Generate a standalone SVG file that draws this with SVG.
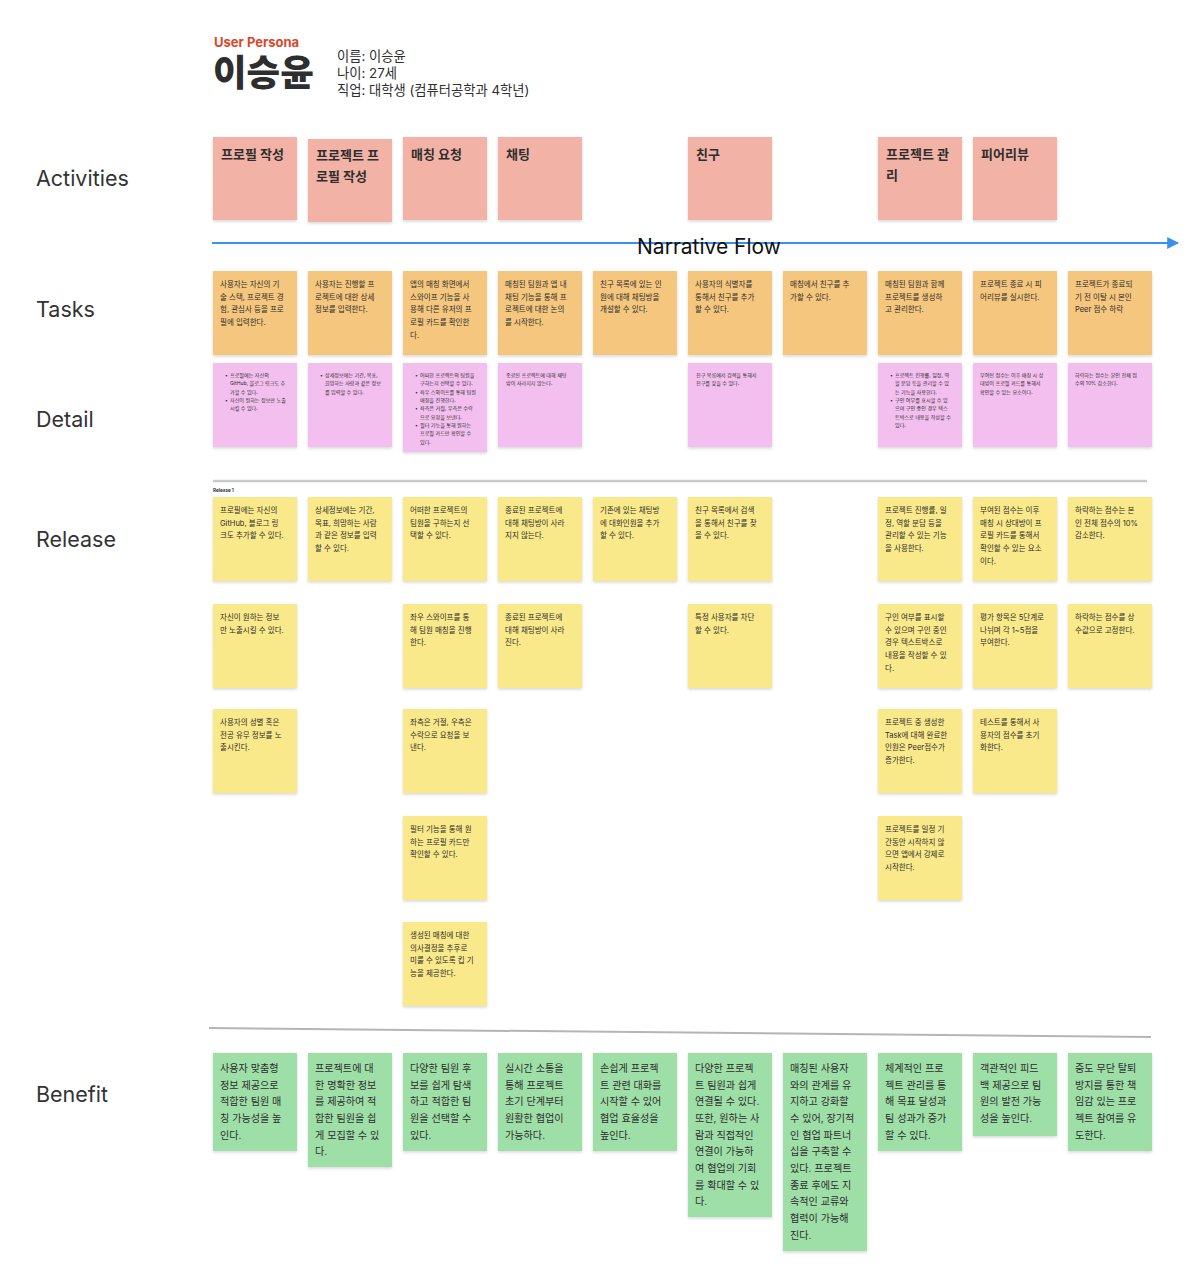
<svg xmlns="http://www.w3.org/2000/svg" width="1200" height="1272" viewBox="0 0 1200 1272">
<style>
text{font-family:"Inter","Noto Sans CJK KR",sans-serif;fill:#2e2e2e}
.lbl{font-size:21.5px;fill:#333}
.act{font-size:13px;font-weight:700}
.tk{font-size:7.5px}
.dt{font-size:5.1px}
.rl{font-size:7.5px}
.bf{font-size:10.1px}
.ca{fill:#F2B2A6}
.ct{fill:#F5C67D}
.cd{fill:#F3BFEE}
.cr{fill:#FAE98A}
.cb{fill:#9EDFA7}
rect.c{filter:url(#sh)}
</style>
<defs>
<filter id="sh" x="-10%" y="-10%" width="130%" height="130%">
<feDropShadow dx="0" dy="1.5" stdDeviation="1.4" flood-color="#000" flood-opacity="0.16"/>
</filter>
<marker id="ah" viewBox="0 0 10 10" refX="9" refY="5" markerWidth="6" markerHeight="6" orient="auto" markerUnits="strokeWidth">
<path d="M0,0 L10,5 L0,10 z" fill="#3B8FEF"/>
</marker>
</defs>
<rect width="1200" height="1272" fill="#fff"/>

<g id="header">
<text x="214" y="47" style="font-size:13px;font-weight:700;fill:#D9482A">User Persona</text>
<text x="213" y="86" style="font-size:36.5px;font-weight:800;fill:#2e2e2e">이승윤</text>
<text x="337" y="61" style="font-size:13.3px">이름: 이승윤</text>
<text x="337" y="78" style="font-size:13.3px">나이: 27세</text>
<text x="337" y="95" style="font-size:13.3px">직업: 대학생 (컴퓨터공학과 4학년)</text>
</g>

<g id="row-labels">
<text class="lbl" x="36" y="186">Activities</text>
<text class="lbl" x="36" y="317">Tasks</text>
<text class="lbl" x="36" y="427">Detail</text>
<text class="lbl" x="36" y="547">Release</text>
<text class="lbl" x="36" y="1102">Benefit</text>
</g>

<g id="separators">
<line x1="213" y1="481" x2="1147" y2="481" stroke="#cacaca" stroke-width="2.5"/>
<text x="213" y="492" style="font-size:4.6px;font-weight:700">Release 1</text>
<line x1="209" y1="1028" x2="1151" y2="1037" stroke="#b5b5b5" stroke-width="2"/>
</g>

<g id="connectors">
<line x1="212" y1="243" x2="1178" y2="243" stroke="#3B8FEF" stroke-width="2" marker-end="url(#ah)"/>
<text x="709" y="254" text-anchor="middle" style="font-size:21px;fill:#111">Narrative Flow</text>
</g>

<!-- Activities -->
<g id="act-1"><rect class="c ca" x="213" y="137" width="84" height="83"/><text class="act" x="221" y="159">프로필 작성</text></g>
<g id="act-2"><rect class="c ca" x="308" y="139" width="84" height="83"/><text class="act" x="316" y="160"><tspan x="316">프로젝트 프</tspan><tspan x="316" dy="21">로필 작성</tspan></text></g>
<g id="act-3"><rect class="c ca" x="403" y="137" width="84" height="83"/><text class="act" x="411" y="159">매칭 요청</text></g>
<g id="act-4"><rect class="c ca" x="498" y="137" width="84" height="83"/><text class="act" x="506" y="159">채팅</text></g>
<g id="act-5"><rect class="c ca" x="688" y="137" width="84" height="83"/><text class="act" x="696" y="159">친구</text></g>
<g id="act-6"><rect class="c ca" x="878" y="137" width="84" height="83"/><text class="act" x="886" y="159"><tspan x="886">프로젝트 관</tspan><tspan x="886" dy="21">리</tspan></text></g>
<g id="act-7"><rect class="c ca" x="973" y="137" width="84" height="83"/><text class="act" x="981" y="159">피어리뷰</text></g>

<!-- Tasks -->
<g id="task-1"><rect class="c ct" x="213" y="271" width="84" height="84"/><text class="tk" x="220" y="287"><tspan x="220">사용자는 자신의 기</tspan><tspan x="220" dy="12.67">술 스택, 프로젝트 경</tspan><tspan x="220" dy="12.67">험, 관심사 등을 프로</tspan><tspan x="220" dy="12.67">필에 입력한다.</tspan></text></g>
<g id="task-2"><rect class="c ct" x="308" y="271" width="84" height="84"/><text class="tk" x="315" y="287"><tspan x="315">사용자는 진행할 프</tspan><tspan x="315" dy="12.67">로젝트에 대한 상세</tspan><tspan x="315" dy="12.67">정보를 입력한다.</tspan></text></g>
<g id="task-3"><rect class="c ct" x="403" y="271" width="84" height="84"/><text class="tk" x="410" y="287"><tspan x="410">앱의 매칭 화면에서</tspan><tspan x="410" dy="12.67">스와이프 기능을 사</tspan><tspan x="410" dy="12.67">용해 다른 유저의 프</tspan><tspan x="410" dy="12.67">로필 카드를 확인한</tspan><tspan x="410" dy="12.67">다.</tspan></text></g>
<g id="task-4"><rect class="c ct" x="498" y="271" width="84" height="84"/><text class="tk" x="505" y="287"><tspan x="505">매칭된 팀원과 앱 내</tspan><tspan x="505" dy="12.67">채팅 기능을 통해 프</tspan><tspan x="505" dy="12.67">로젝트에 대한 논의</tspan><tspan x="505" dy="12.67">를 시작한다.</tspan></text></g>
<g id="task-5"><rect class="c ct" x="593" y="271" width="84" height="84"/><text class="tk" x="600" y="287"><tspan x="600">친구 목록에 있는 인</tspan><tspan x="600" dy="12.67">원에 대해 채팅방을</tspan><tspan x="600" dy="12.67">개설할 수 있다.</tspan></text></g>
<g id="task-6"><rect class="c ct" x="688" y="271" width="84" height="84"/><text class="tk" x="695" y="287"><tspan x="695">사용자의 식별자를</tspan><tspan x="695" dy="12.67">통해서 친구를 추가</tspan><tspan x="695" dy="12.67">할 수 있다.</tspan></text></g>
<g id="task-7"><rect class="c ct" x="783" y="271" width="84" height="84"/><text class="tk" x="790" y="287"><tspan x="790">매칭에서 친구를 추</tspan><tspan x="790" dy="12.67">가할 수 있다.</tspan></text></g>
<g id="task-8"><rect class="c ct" x="878" y="271" width="84" height="84"/><text class="tk" x="885" y="287"><tspan x="885">매칭된 팀원과 함께</tspan><tspan x="885" dy="12.67">프로젝트를 생성하</tspan><tspan x="885" dy="12.67">고 관리한다.</tspan></text></g>
<g id="task-9"><rect class="c ct" x="973" y="271" width="84" height="84"/><text class="tk" x="980" y="287"><tspan x="980">프로젝트 종료 시 피</tspan><tspan x="980" dy="12.67">어리뷰를 실시한다.</tspan></text></g>
<g id="task-10"><rect class="c ct" x="1068" y="271" width="84" height="84"/><text class="tk" x="1075" y="287"><tspan x="1075">프로젝트가 종료되</tspan><tspan x="1075" dy="12.67">기 전 이탈 시 본인</tspan><tspan x="1075" dy="12.67">Peer 점수 하락</tspan></text></g>

<!-- Detail -->
<g id="detail-1"><rect class="c cd" x="213" y="363" width="84" height="84"/><text class="dt"><tspan x="225" y="377">•</tspan><tspan x="230" y="377">프로필에는 자신의</tspan><tspan x="230" y="385.3">GitHub, 블로그 링크도 추</tspan><tspan x="230" y="393.7">가할 수 있다.</tspan><tspan x="225" y="402">•</tspan><tspan x="230" y="402">자신이 원하는 정보만 노출</tspan><tspan x="230" y="410.3">시킬 수 있다.</tspan></text></g>
<g id="detail-2"><rect class="c cd" x="308" y="363" width="84" height="84"/><text class="dt"><tspan x="320" y="377">•</tspan><tspan x="325" y="377">상세정보에는 기간, 목표,</tspan><tspan x="325" y="385.3">희망하는 사람과 같은 정보</tspan><tspan x="325" y="393.7">를 입력할 수 있다.</tspan></text></g>
<g id="detail-3"><rect class="c cd" x="403" y="363" width="84" height="89"/><text class="dt"><tspan x="415" y="377">•</tspan><tspan x="420" y="377">어떠한 프로젝트의 팀원을</tspan><tspan x="420" y="385.3">구하는지 선택할 수 있다.</tspan><tspan x="415" y="393.7">•</tspan><tspan x="420" y="393.7">좌우 스와이프를 통해 팀원</tspan><tspan x="420" y="402">매칭을 진행한다.</tspan><tspan x="415" y="410.3">•</tspan><tspan x="420" y="410.3">좌측은 거절, 우측은 수락</tspan><tspan x="420" y="418.7">으로 요청을 보낸다.</tspan><tspan x="415" y="427">•</tspan><tspan x="420" y="427">필터 기능을 통해 원하는</tspan><tspan x="420" y="435.3">프로필 카드만 확인할 수</tspan><tspan x="420" y="443.7">있다.</tspan></text></g>
<g id="detail-4"><rect class="c cd" x="498" y="363" width="84" height="84"/><text class="dt"><tspan x="506" y="377">종료된 프로젝트에 대해 채팅</tspan><tspan x="506" y="385.3">방이 사라지지 않는다.</tspan></text></g>
<g id="detail-5"><rect class="c cd" x="688" y="363" width="84" height="84"/><text class="dt"><tspan x="696" y="377">친구 목록에서 검색을 통해서</tspan><tspan x="696" y="385.3">친구를 찾을 수 있다.</tspan></text></g>
<g id="detail-6"><rect class="c cd" x="878" y="363" width="84" height="84"/><text class="dt"><tspan x="890" y="377">•</tspan><tspan x="895" y="377">프로젝트 진행률, 일정, 역</tspan><tspan x="895" y="385.3">할 분담 등을 관리할 수 있</tspan><tspan x="895" y="393.7">는 기능을 사용한다.</tspan><tspan x="890" y="402">•</tspan><tspan x="895" y="402">구인 여부를 표시할 수 있</tspan><tspan x="895" y="410.3">으며 구인 중인 경우 텍스</tspan><tspan x="895" y="418.7">트박스로 내용을 작성할 수</tspan><tspan x="895" y="427">있다.</tspan></text></g>
<g id="detail-7"><rect class="c cd" x="973" y="363" width="84" height="84"/><text class="dt"><tspan x="980" y="377">부여된 점수는 이후 매칭 시 상</tspan><tspan x="980" y="385.3">대방이 프로필 카드를 통해서</tspan><tspan x="980" y="393.7">확인할 수 있는 요소이다.</tspan></text></g>
<g id="detail-8"><rect class="c cd" x="1068" y="363" width="84" height="84"/><text class="dt"><tspan x="1075" y="377">하락하는 점수는 본인 전체 점</tspan><tspan x="1075" y="385.3">수의 10% 감소한다.</tspan></text></g>

<!-- Release row 1 -->
<g id="rel-1-1"><rect class="c cr" x="213" y="497" width="84" height="84"/><text class="rl" x="220" y="513"><tspan x="220">프로필에는 자신의</tspan><tspan x="220" dy="12.67">GitHub, 블로그 링</tspan><tspan x="220" dy="12.67">크도 추가할 수 있다.</tspan></text></g>
<g id="rel-1-2"><rect class="c cr" x="308" y="497" width="84" height="84"/><text class="rl" x="315" y="513"><tspan x="315">상세정보에는 기간,</tspan><tspan x="315" dy="12.67">목표, 희망하는 사람</tspan><tspan x="315" dy="12.67">과 같은 정보를 입력</tspan><tspan x="315" dy="12.67">할 수 있다.</tspan></text></g>
<g id="rel-1-3"><rect class="c cr" x="403" y="497" width="84" height="84"/><text class="rl" x="410" y="513"><tspan x="410">어떠한 프로젝트의</tspan><tspan x="410" dy="12.67">팀원을 구하는지 선</tspan><tspan x="410" dy="12.67">택할 수 있다.</tspan></text></g>
<g id="rel-1-4"><rect class="c cr" x="498" y="497" width="84" height="84"/><text class="rl" x="505" y="513"><tspan x="505">종료된 프로젝트에</tspan><tspan x="505" dy="12.67">대해 채팅방이 사라</tspan><tspan x="505" dy="12.67">지지 않는다.</tspan></text></g>
<g id="rel-1-5"><rect class="c cr" x="593" y="497" width="84" height="84"/><text class="rl" x="600" y="513"><tspan x="600">기존에 있는 채팅방</tspan><tspan x="600" dy="12.67">에 대화인원을 추가</tspan><tspan x="600" dy="12.67">할 수 있다.</tspan></text></g>
<g id="rel-1-6"><rect class="c cr" x="688" y="497" width="84" height="84"/><text class="rl" x="695" y="513"><tspan x="695">친구 목록에서 검색</tspan><tspan x="695" dy="12.67">을 통해서 친구를 찾</tspan><tspan x="695" dy="12.67">을 수 있다.</tspan></text></g>
<g id="rel-1-7"><rect class="c cr" x="878" y="497" width="84" height="84"/><text class="rl" x="885" y="513"><tspan x="885">프로젝트 진행률, 일</tspan><tspan x="885" dy="12.67">정, 역할 분담 등을</tspan><tspan x="885" dy="12.67">관리할 수 있는 기능</tspan><tspan x="885" dy="12.67">을 사용한다.</tspan></text></g>
<g id="rel-1-8"><rect class="c cr" x="973" y="497" width="84" height="84"/><text class="rl" x="980" y="513"><tspan x="980">부여된 점수는 이후</tspan><tspan x="980" dy="12.67">매칭 시 상대방이 프</tspan><tspan x="980" dy="12.67">로필 카드를 통해서</tspan><tspan x="980" dy="12.67">확인할 수 있는 요소</tspan><tspan x="980" dy="12.67">이다.</tspan></text></g>
<g id="rel-1-9"><rect class="c cr" x="1068" y="497" width="84" height="84"/><text class="rl" x="1075" y="513"><tspan x="1075">하락하는 점수는 본</tspan><tspan x="1075" dy="12.67">인 전체 점수의 10%</tspan><tspan x="1075" dy="12.67">감소한다.</tspan></text></g>

<!-- Release row 2 -->
<g id="rel-2-1"><rect class="c cr" x="213" y="604" width="84" height="84"/><text class="rl" x="220" y="620"><tspan x="220">자신이 원하는 정보</tspan><tspan x="220" dy="12.67">만 노출시킬 수 있다.</tspan></text></g>
<g id="rel-2-3"><rect class="c cr" x="403" y="604" width="84" height="84"/><text class="rl" x="410" y="620"><tspan x="410">좌우 스와이프를 통</tspan><tspan x="410" dy="12.67">해 팀원 매칭을 진행</tspan><tspan x="410" dy="12.67">한다.</tspan></text></g>
<g id="rel-2-4"><rect class="c cr" x="498" y="604" width="84" height="84"/><text class="rl" x="505" y="620"><tspan x="505">종료된 프로젝트에</tspan><tspan x="505" dy="12.67">대해 채팅방이 사라</tspan><tspan x="505" dy="12.67">진다.</tspan></text></g>
<g id="rel-2-6"><rect class="c cr" x="688" y="604" width="84" height="84"/><text class="rl" x="695" y="620"><tspan x="695">특정 사용자를 차단</tspan><tspan x="695" dy="12.67">할 수 있다.</tspan></text></g>
<g id="rel-2-7"><rect class="c cr" x="878" y="604" width="84" height="84"/><text class="rl" x="885" y="620"><tspan x="885">구인 여부를 표시할</tspan><tspan x="885" dy="12.67">수 있으며 구인 중인</tspan><tspan x="885" dy="12.67">경우 텍스트박스로</tspan><tspan x="885" dy="12.67">내용을 작성할 수 있</tspan><tspan x="885" dy="12.67">다.</tspan></text></g>
<g id="rel-2-8"><rect class="c cr" x="973" y="604" width="84" height="84"/><text class="rl" x="980" y="620"><tspan x="980">평가 항목은 5단계로</tspan><tspan x="980" dy="12.67">나뉘며 각 1~5점을</tspan><tspan x="980" dy="12.67">부여한다.</tspan></text></g>
<g id="rel-2-9"><rect class="c cr" x="1068" y="604" width="84" height="84"/><text class="rl" x="1075" y="620"><tspan x="1075">하락하는 점수를 상</tspan><tspan x="1075" dy="12.67">수값으로 고정한다.</tspan></text></g>

<!-- Release row 3 -->
<g id="rel-3-1"><rect class="c cr" x="213" y="709" width="84" height="84"/><text class="rl" x="220" y="725"><tspan x="220">사용자의 성별 혹은</tspan><tspan x="220" dy="12.67">전공 유무 정보를 노</tspan><tspan x="220" dy="12.67">출시킨다.</tspan></text></g>
<g id="rel-3-3"><rect class="c cr" x="403" y="709" width="84" height="84"/><text class="rl" x="410" y="725"><tspan x="410">좌측은 거절, 우측은</tspan><tspan x="410" dy="12.67">수락으로 요청을 보</tspan><tspan x="410" dy="12.67">낸다.</tspan></text></g>
<g id="rel-3-7"><rect class="c cr" x="878" y="709" width="84" height="84"/><text class="rl" x="885" y="725"><tspan x="885">프로젝트 중 생성한</tspan><tspan x="885" dy="12.67">Task에 대해 완료한</tspan><tspan x="885" dy="12.67">인원은 Peer점수가</tspan><tspan x="885" dy="12.67">증가한다.</tspan></text></g>
<g id="rel-3-8"><rect class="c cr" x="973" y="709" width="84" height="84"/><text class="rl" x="980" y="725"><tspan x="980">테스트를 통해서 사</tspan><tspan x="980" dy="12.67">용자의 점수를 초기</tspan><tspan x="980" dy="12.67">화한다.</tspan></text></g>

<!-- Release row 4 -->
<g id="rel-4-3"><rect class="c cr" x="403" y="816" width="84" height="84"/><text class="rl" x="410" y="832"><tspan x="410">필터 기능을 통해 원</tspan><tspan x="410" dy="12.67">하는 프로필 카드만</tspan><tspan x="410" dy="12.67">확인할 수 있다.</tspan></text></g>
<g id="rel-4-7"><rect class="c cr" x="878" y="816" width="84" height="84"/><text class="rl" x="885" y="832"><tspan x="885">프로젝트를 일정 기</tspan><tspan x="885" dy="12.67">간동안 시작하지 않</tspan><tspan x="885" dy="12.67">으면 앱에서 강제로</tspan><tspan x="885" dy="12.67">시작한다.</tspan></text></g>

<!-- Release row 5 -->
<g id="rel-5-3"><rect class="c cr" x="403" y="922" width="84" height="84"/><text class="rl" x="410" y="938"><tspan x="410">생성된 매칭에 대한</tspan><tspan x="410" dy="12.67">의사결정을 추후로</tspan><tspan x="410" dy="12.67">미룰 수 있도록 킵 기</tspan><tspan x="410" dy="12.67">능을 제공한다.</tspan></text></g>

<!-- Benefit -->
<g id="ben-1"><rect class="c cb" x="213" y="1053" width="84" height="98"/><text class="bf" x="220" y="1072"><tspan x="220">사용자 맞춤형</tspan><tspan x="220" dy="16.67">정보 제공으로</tspan><tspan x="220" dy="16.67">적합한 팀원 매</tspan><tspan x="220" dy="16.67">칭 가능성을 높</tspan><tspan x="220" dy="16.67">인다.</tspan></text></g>
<g id="ben-2"><rect class="c cb" x="308" y="1053" width="84" height="114"/><text class="bf" x="315" y="1072"><tspan x="315">프로젝트에 대</tspan><tspan x="315" dy="16.67">한 명확한 정보</tspan><tspan x="315" dy="16.67">를 제공하여 적</tspan><tspan x="315" dy="16.67">합한 팀원을 쉽</tspan><tspan x="315" dy="16.67">게 모집할 수 있</tspan><tspan x="315" dy="16.67">다.</tspan></text></g>
<g id="ben-3"><rect class="c cb" x="403" y="1053" width="84" height="98"/><text class="bf" x="410" y="1072"><tspan x="410">다양한 팀원 후</tspan><tspan x="410" dy="16.67">보를 쉽게 탐색</tspan><tspan x="410" dy="16.67">하고 적합한 팀</tspan><tspan x="410" dy="16.67">원을 선택할 수</tspan><tspan x="410" dy="16.67">있다.</tspan></text></g>
<g id="ben-4"><rect class="c cb" x="498" y="1053" width="84" height="98"/><text class="bf" x="505" y="1072"><tspan x="505">실시간 소통을</tspan><tspan x="505" dy="16.67">통해 프로젝트</tspan><tspan x="505" dy="16.67">초기 단계부터</tspan><tspan x="505" dy="16.67">원활한 협업이</tspan><tspan x="505" dy="16.67">가능하다.</tspan></text></g>
<g id="ben-5"><rect class="c cb" x="593" y="1053" width="84" height="98"/><text class="bf" x="600" y="1072"><tspan x="600">손쉽게 프로젝</tspan><tspan x="600" dy="16.67">트 관련 대화를</tspan><tspan x="600" dy="16.67">시작할 수 있어</tspan><tspan x="600" dy="16.67">협업 효율성을</tspan><tspan x="600" dy="16.67">높인다.</tspan></text></g>
<g id="ben-6"><rect class="c cb" x="688" y="1053" width="84" height="164"/><text class="bf" x="695" y="1072"><tspan x="695">다양한 프로젝</tspan><tspan x="695" dy="16.67">트 팀원과 쉽게</tspan><tspan x="695" dy="16.67">연결될 수 있다.</tspan><tspan x="695" dy="16.67">또한, 원하는 사</tspan><tspan x="695" dy="16.67">람과 직접적인</tspan><tspan x="695" dy="16.67">연결이 가능하</tspan><tspan x="695" dy="16.67">여 협업의 기회</tspan><tspan x="695" dy="16.67">를 확대할 수 있</tspan><tspan x="695" dy="16.67">다.</tspan></text></g>
<g id="ben-7"><rect class="c cb" x="783" y="1053" width="84" height="198"/><text class="bf" x="790" y="1072"><tspan x="790">매칭된 사용자</tspan><tspan x="790" dy="16.67">와의 관계를 유</tspan><tspan x="790" dy="16.67">지하고 강화할</tspan><tspan x="790" dy="16.67">수 있어, 장기적</tspan><tspan x="790" dy="16.67">인 협업 파트너</tspan><tspan x="790" dy="16.67">십을 구축할 수</tspan><tspan x="790" dy="16.67">있다. 프로젝트</tspan><tspan x="790" dy="16.67">종료 후에도 지</tspan><tspan x="790" dy="16.67">속적인 교류와</tspan><tspan x="790" dy="16.67">협력이 가능해</tspan><tspan x="790" dy="16.67">진다.</tspan></text></g>
<g id="ben-8"><rect class="c cb" x="878" y="1053" width="84" height="98"/><text class="bf" x="885" y="1072"><tspan x="885">체계적인 프로</tspan><tspan x="885" dy="16.67">젝트 관리를 통</tspan><tspan x="885" dy="16.67">해 목표 달성과</tspan><tspan x="885" dy="16.67">팀 성과가 증가</tspan><tspan x="885" dy="16.67">할 수 있다.</tspan></text></g>
<g id="ben-9"><rect class="c cb" x="973" y="1053" width="84" height="83"/><text class="bf" x="980" y="1072"><tspan x="980">객관적인 피드</tspan><tspan x="980" dy="16.67">백 제공으로 팀</tspan><tspan x="980" dy="16.67">원의 발전 가능</tspan><tspan x="980" dy="16.67">성을 높인다.</tspan></text></g>
<g id="ben-10"><rect class="c cb" x="1068" y="1053" width="84" height="98"/><text class="bf" x="1075" y="1072"><tspan x="1075">중도 무단 탈퇴</tspan><tspan x="1075" dy="16.67">방지를 통한 책</tspan><tspan x="1075" dy="16.67">임감 있는 프로</tspan><tspan x="1075" dy="16.67">젝트 참여를 유</tspan><tspan x="1075" dy="16.67">도한다.</tspan></text></g>
</svg>
